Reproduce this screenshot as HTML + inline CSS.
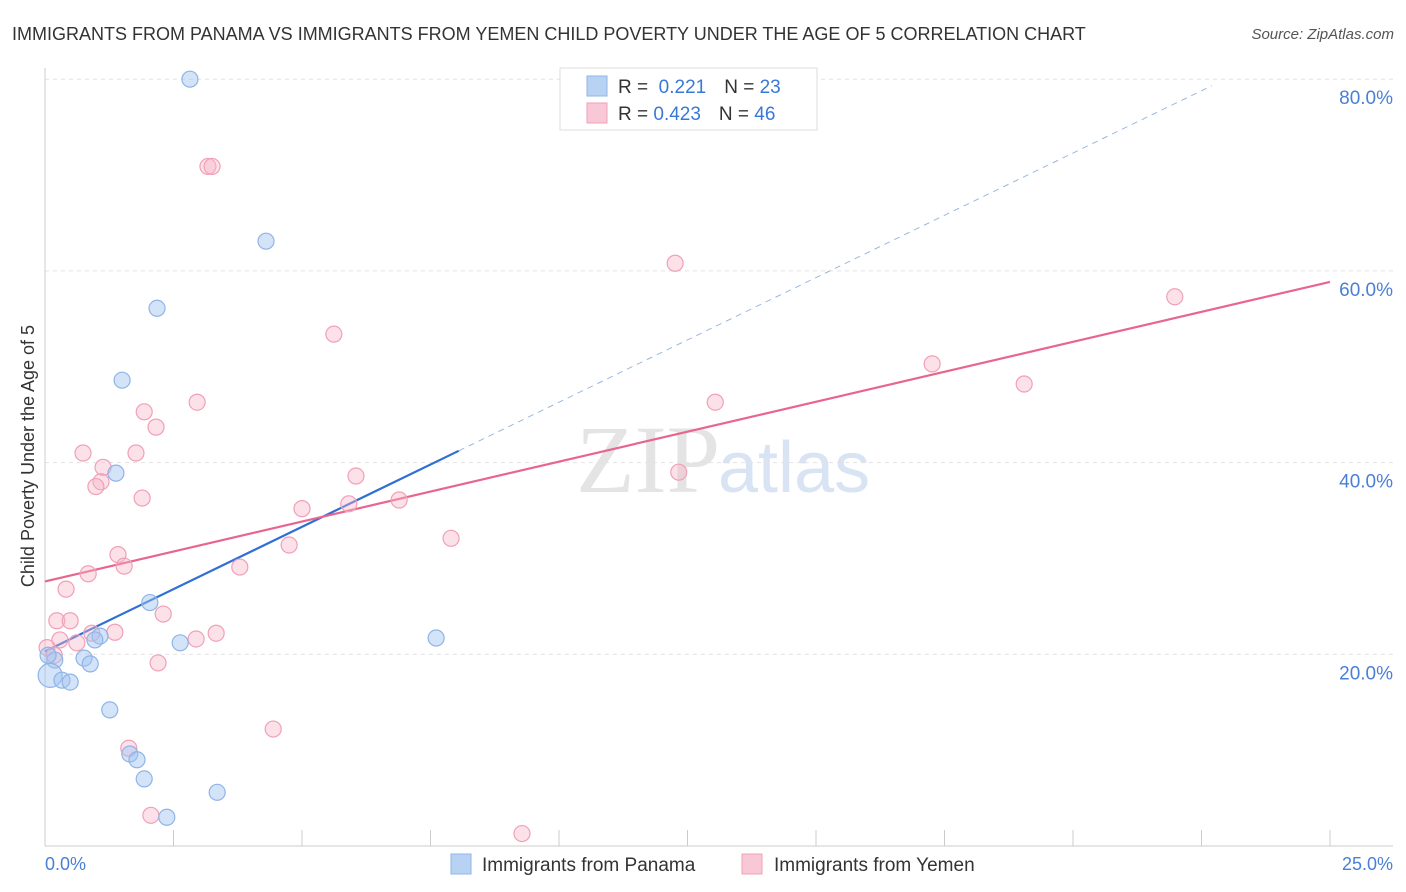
<!DOCTYPE html>
<html><head><meta charset="utf-8"><style>
body{margin:0;background:#fff;font-family:"Liberation Sans",sans-serif;}
svg{display:block}
</style></head><body>
<svg id="chart" width="1406" height="892">
<text x="12" y="40" font-size="18" fill="#333">IMMIGRANTS FROM PANAMA VS IMMIGRANTS FROM YEMEN CHILD POVERTY UNDER THE AGE OF 5 CORRELATION CHART</text>
<text x="1394" y="39" font-size="15" fill="#555" font-style="italic" text-anchor="end">Source: ZipAtlas.com</text>
<text x="720" y="492" font-size="96" fill="#e4e4e4" text-anchor="end" font-family="Liberation Serif">ZIP</text>
<text x="718" y="492" font-size="72" fill="#d8e4f4">atlas</text>
<text transform="translate(34,456) rotate(-90)" font-size="18" fill="#333" text-anchor="middle">Child Poverty Under the Age of 5</text>
<g id="grid"></g><g id="axes"></g><g id="lines"></g><g id="pts"></g>
<text x="45" y="870" font-size="18" fill="#4a7fd6">0.0%</text>
<text x="1393" y="870" font-size="18" fill="#4a7fd6" text-anchor="end">25.0%</text>
<g>
<rect x="560" y="68" width="257" height="62" fill="#fff" stroke="#ddd"/>
<rect x="587" y="76" width="20" height="20" fill="#b8d2f4" stroke="#8fb4e8"/>
<rect x="587" y="103" width="20" height="20" fill="#f9c8d6" stroke="#f0a0b8"/>
<text x="618" y="93" font-size="19" fill="#333">R = <tspan fill="#3a78d8">&#160;0.221</tspan><tspan dx="18">N = </tspan><tspan fill="#3a78d8">23</tspan></text>
<text x="618" y="120" font-size="19" fill="#333">R = <tspan fill="#3a78d8">0.423</tspan><tspan dx="18">N = </tspan><tspan fill="#3a78d8">46</tspan></text>
</g>
<g>
<rect x="451" y="854" width="20" height="20" fill="#b8d2f4" stroke="#8fb4e8"/>
<text x="482" y="871" font-size="19" fill="#333">Immigrants from Panama</text>
<rect x="742" y="854" width="20" height="20" fill="#f9c8d6" stroke="#f0a0b8"/>
<text x="774" y="871" font-size="19" fill="#333">Immigrants from Yemen</text>
</g>
</svg>
<script>
const yTicks=[20,40,60,80];
const xTicks=[0,2.5,5,7.5,10,12.5,15,17.5,20,22.5,25];
const panamaX=[2.82,4.30,2.18,1.50,1.38,2.04,2.63,7.61,1.07,0.97,0.76,0.88,0.19,0.10,0.33,0.49,1.26,1.65,1.79,1.93,3.35,2.37,0.06];
const panamaY=[80.0,63.1,56.1,48.6,38.9,25.4,21.2,21.7,21.9,21.5,19.6,19.0,19.4,17.8,17.3,17.1,14.2,9.6,9.0,7.0,5.6,3.0,19.9];
const yemenX=[3.17,3.25,12.26,21.98,5.62,17.26,19.05,2.96,13.04,1.93,2.16,0.74,1.77,1.13,12.33,6.05,1.09,0.99,1.89,5.91,6.89,5.00,7.90,4.75,1.42,1.54,3.79,0.84,0.41,2.30,0.23,0.49,0.91,1.36,3.33,2.94,0.29,0.62,0.04,0.18,2.20,4.44,1.63,2.06,9.28];
const yemenY=[70.9,70.9,60.8,57.3,53.4,50.3,48.2,46.3,46.3,45.3,43.7,41.0,41.0,39.5,39.0,38.6,38.0,37.5,36.3,35.7,36.1,35.2,32.1,31.4,30.4,29.2,29.1,28.4,26.8,24.2,23.5,23.5,22.2,22.3,22.2,21.6,21.5,21.2,20.7,19.9,19.1,12.2,10.2,3.2,1.3];
const panamaTrend=[20.3,2.6];
const yemenTrend=[27.6,1.25];
const NS="http://www.w3.org/2000/svg";
const X=v=>45+v*51.4, Y=v=>846-v*9.585;
function mk(t,a,p){const e=document.createElementNS(NS,t);for(const k in a)e.setAttribute(k,a[k]);document.getElementById(p).appendChild(e);return e;}
yTicks.forEach(t=>{
 const l=mk('line',{x1:45,x2:1393,y1:Y(t),y2:Y(t),stroke:'#e2e2e2','stroke-dasharray':'4,4'},'grid');
 
 
 const tx=mk('text',{x:1393,y:Y(t)+25,'font-size':19,fill:'#4a7fd6','text-anchor':'end'},'grid');
 tx.textContent=t.toFixed(1)+'%';
 
 
});
const ax=mk('line',{x1:45,x2:1393,y1:846,y2:846,stroke:'#ccc'},'axes');


const ay=mk('line',{x1:45,x2:45,y1:68,y2:846,stroke:'#ccc'},'axes');


xTicks.forEach(t=>{
 const l=mk('line',{x1:X(t),x2:X(t),y1:830,y2:846,stroke:'#ccc'},'axes');
 
 
});
function pts(xs,ys,fill,stroke,name){
 xs.forEach((x,i)=>{
  const c=mk('circle',{cx:X(x),cy:Y(ys[i]),r:(name==='panama-point'&&i===13)?12:8,fill:fill,stroke:stroke,'stroke-width':1.2},'pts');
  
  
 });
}
pts(yemenX,yemenY,'rgba(248,180,200,0.4)','#f0a0b8','yemen-point');
pts(panamaX,panamaY,'rgba(160,196,240,0.45)','#8fb4e8','panama-point');
const pb=mk('line',{x1:X(0),y1:Y(panamaTrend[0]),x2:X(8.05),y2:Y(panamaTrend[0]+panamaTrend[1]*8.05),stroke:'#2f6fd6','stroke-width':2.2},'lines');


const pd=mk('line',{x1:X(8.05),y1:Y(panamaTrend[0]+panamaTrend[1]*8.05),x2:X(22.7),y2:Y(panamaTrend[0]+panamaTrend[1]*22.7),stroke:'#9bb8e0','stroke-width':1,'stroke-dasharray':'6,5'},'lines');


const yl=mk('line',{x1:X(0),y1:Y(yemenTrend[0]),x2:X(25),y2:Y(yemenTrend[0]+yemenTrend[1]*25),stroke:'#e8668e','stroke-width':2.2},'lines');


</script>
</body></html>
